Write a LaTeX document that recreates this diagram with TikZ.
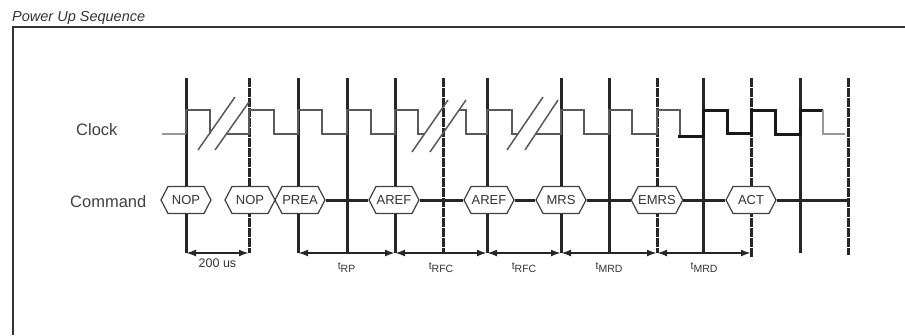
\documentclass[tikz,border=0pt]{standalone}
\usepackage{fontspec}
\setmainfont{Liberation Sans}
\usetikzlibrary{shapes.symbols,arrows.meta}

\begin{document}
\begin{tikzpicture}[x=1pt, y=-1pt,
    cmd/.style={signal, signal to=west and east, signal pointer angle=125, draw=black!75, line width=1.2pt,
        fill=white, minimum width=50pt, minimum height=27pt, inner sep=0pt, font=\fontsize{13}{13}\selectfont, text=black!80},
    edge/.style={line width=3pt, black!85},
    edgedot/.style={edge, dash pattern=on 9pt off 1pt},
    clk/.style={line width=1.5pt, black!65},
    tim/.style={line width=2.5pt, black!85, {Latex[length=10pt,width=7pt]}-{Latex[length=10pt,width=7pt]}},
    lbl/.style={below=5pt, inner sep=0pt, text=black!80, font=\fontsize{12.5}{12.5}\selectfont},
    tlbl/.style={below=8pt, inner sep=0pt, text=black!80, font=\fontsize{10.5}{10.5}\selectfont}]
    \useasboundingbox (0,0) rectangle (905,335);

    % frame and signal names
    \node[anchor=base west, inner sep=0pt, text=black!80, font=\fontsize{14.5}{14.5}\itshape] (title) at (12,21) {Power Up Sequence};
    \draw[line width=2pt, black!80] (13,335) -- (13,27) -- (905,27);
    \node[anchor=base west, inner sep=0pt, text=black!75, font=\fontsize{16.5}{16.5}\selectfont] (clock) at (76,135) {Clock};
    \node[anchor=base west, inner sep=0pt, text=black!75, font=\fontsize{16.5}{16.5}\selectfont] (command) at (70,207) {Command};

    % clock edges
    \coordinate (t1) at (186,78);  \coordinate (b1) at (186,253);
    \coordinate (t2) at (249,78);  \coordinate (b2) at (249,253);
    \coordinate (t3) at (298,78);  \coordinate (b3) at (298,253);
    \coordinate (t4) at (347,78);  \coordinate (b4) at (347,253);
    \coordinate (t5) at (395,78);  \coordinate (b5) at (395,253);
    \coordinate (t6) at (443,78);  \coordinate (b6) at (443,253);
    \coordinate (t7) at (487,78);  \coordinate (b7) at (487,253);
    \coordinate (t8) at (561,78);  \coordinate (b8) at (561,253);
    \coordinate (t9) at (609,78);  \coordinate (b9) at (609,253);
    \coordinate (t10) at (657,78); \coordinate (b10) at (657,253);
    \coordinate (t11) at (703,78); \coordinate (b11) at (703,253);
    \coordinate (t12) at (751,78); \coordinate (b12) at (751,258);
    \coordinate (t13) at (800,78); \coordinate (b13) at (800,253);
    \coordinate (t14) at (848,78); \coordinate (b14) at (848,255);

    \draw[edge] (t1) -- (b1);
    \draw[edgedot] (t2) -- (b2);
    \draw[edge] (t3) -- (b3);
    \draw[edge] (t4) -- (b4);
    \draw[edge] (t5) -- (b5);
    \draw[edgedot] (t6) -- (b6);
    \draw[edge] (t7) -- (b7);
    \draw[edge] (t8) -- (b8);
    \draw[edge] (t9) -- (b9);
    \draw[edgedot] (t10) -- (b10);
    \draw[edge] (t11) -- (b11);
    \draw[edgedot] (t12) -- (b12);
    \draw[edge] (t13) -- (b13);
    \draw[edgedot] (t14) -- (b14);

    % clock
    \draw[clk, black!40] (162,134) -- (186,134);
    \draw[clk] (186,134) -- (186,110) -- (210,110) -- (210,134);
    \draw[clk] (198,150) -- (235,97) (215,150) -- (249,102);
    \draw[clk] (226,134) -- (249,134) -- (249,110) -- (274,110) -- (274,134) -- (298,134) -- (298,110) -- (322,110) -- (322,134)
        -- (347,134) -- (347,110) -- (371,110) -- (371,134) -- (395,134) -- (395,110) -- (418,110) -- (418,134) -- (424,134);
    \draw[clk] (412,152) -- (448,100) (430,152) -- (466,100);
    \draw[clk] (459,110) -- (466,110) -- (466,134) -- (487,134) -- (487,110) -- (512,110) -- (512,134) -- (518,134);
    \draw[clk] (507,150) -- (543,97) (525,150) -- (558,100);
    \draw[clk] (536,134) -- (561,134) -- (561,110) -- (584,110) -- (584,134) -- (609,134) -- (609,110) -- (632,110) -- (632,134)
        -- (657,134) -- (657,110) -- (680,110) -- (680,136);
    \draw[line width=3pt, black!90] (678,136) -- (703,136) -- (703,110) -- (727,110) -- (727,133) -- (751,133) -- (751,110)
        -- (775,110) -- (775,134) -- (800,134) -- (800,110) -- (823,110);
    \draw[clk, black!40] (823,110) -- (823,134) -- (845,134);

    % command bus
    \node[cmd] (nop1) at (186,200) {NOP};
    \node[cmd] (nop2) at (250,200) {NOP};
    \node[cmd] (prea) at (300,200) {PREA};
    \node[cmd] (aref1) at (394,200) {AREF};
    \node[cmd] (aref2) at (489,200) {AREF};
    \node[cmd] (mrs) at (561,200) {MRS};
    \node[cmd] (emrs) at (657,200) {EMRS};
    \node[cmd] (act) at (751,200) {ACT};
    \coordinate (busend) at (848,200);

    \draw[edge] (prea.east) -- (aref1.west) (aref1.east) -- (aref2.west) (aref2.east) -- (mrs.west)
        (mrs.east) -- (emrs.west) (emrs.east) -- (act.west) (act.east) -- (busend);

    % timing
    \draw[tim] (b1) -- node[lbl] {200 us} (b2);
    \draw[tim] (b3) -- node[tlbl] {t\raisebox{-3.5pt}{RP}} (b5);
    \draw[tim] (b5) -- node[tlbl] {t\raisebox{-3.5pt}{RFC}} (b7);
    \draw[tim] (b7) -- node[tlbl] {t\raisebox{-3.5pt}{RFC}} (b8);
    \draw[tim] (b8) -- node[tlbl] {t\raisebox{-3.5pt}{MRD}} (b10);
    \draw[tim] (b10) -- node[tlbl] {t\raisebox{-3.5pt}{MRD}} (b12 |- b10);
\end{tikzpicture}
\end{document}
